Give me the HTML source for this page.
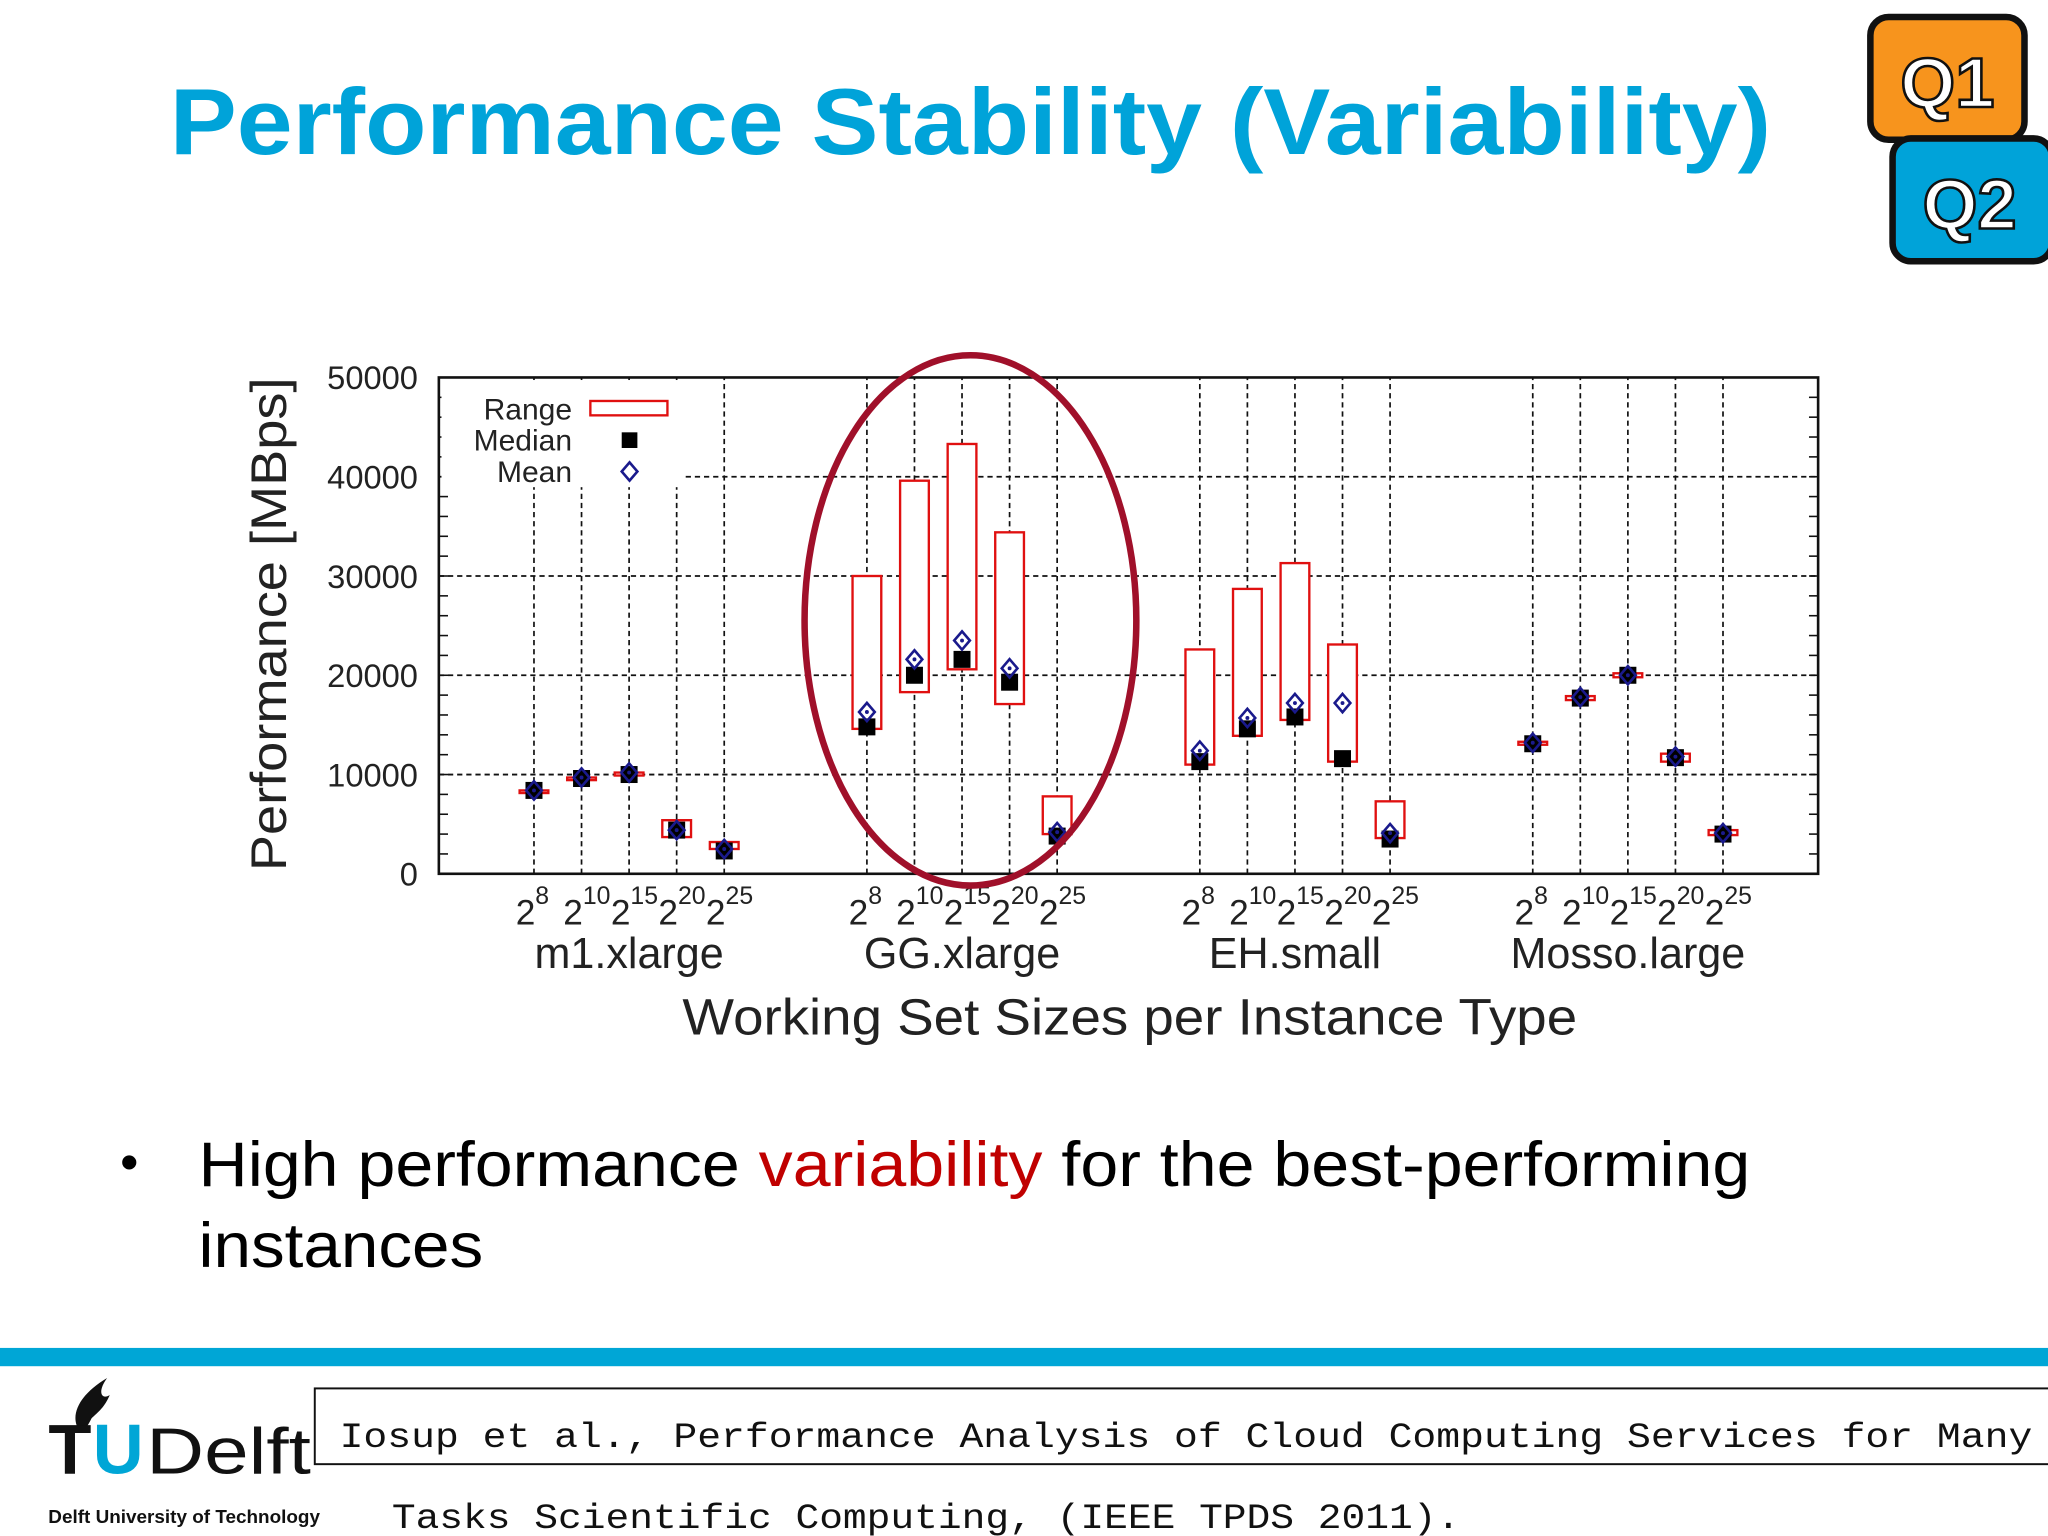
<!DOCTYPE html>
<html><head><meta charset="utf-8"><style>
html,body{margin:0;padding:0;background:#fff;}
svg{display:block;}
</style></head><body>
<svg id="slide" width="2048" height="1536" viewBox="0 0 1568 1176" xmlns="http://www.w3.org/2000/svg" font-family="Liberation Sans, sans-serif">
<rect width="1568" height="1176" fill="#fff"/>
<text x="130" y="118" font-size="72" font-weight="bold" fill="#00a3d9" textLength="1226" lengthAdjust="spacingAndGlyphs">Performance Stability (Variability)</text>
<g>
<rect x="1432" y="13" width="118" height="94" rx="14" fill="#f7941d" stroke="#111" stroke-width="5"/>
<text x="1491" y="82" font-size="54" font-weight="bold" fill="#fff" stroke="#111" stroke-width="2" text-anchor="middle">Q1</text>
</g>
<g>
<rect x="1449" y="106" width="122" height="94" rx="14" fill="#00a3d9" stroke="#111" stroke-width="5"/>
<text x="1508" y="175" font-size="54" font-weight="bold" fill="#fff" stroke="#111" stroke-width="2" text-anchor="middle">Q2</text>
</g>
<g id="chart"></g>
<text x="92" y="903" font-size="40" fill="#000">•</text>
<text x="152" y="908" font-size="48" fill="#000" textLength="1188" lengthAdjust="spacingAndGlyphs">High performance <tspan fill="#c00000">variability</tspan> for the best-performing</text>
<text x="152" y="970" font-size="48" fill="#000" textLength="218" lengthAdjust="spacingAndGlyphs">instances</text>
<rect x="0" y="1032" width="1568" height="14" fill="#00a6d6"/>
<g>
<path d="M62 1097 C52 1085 60 1068 82 1055 C74 1066 78 1072 84 1068 C80 1078 74 1082 70 1086 C68 1090 66 1094 62 1097 Z" fill="#111"/>
<text x="37" y="1128" font-size="54" font-weight="bold" fill="#111">T</text>
<text x="71" y="1128" font-size="54" font-weight="bold" fill="#00a6d6">U</text>
<text x="112" y="1128" font-size="50" fill="#111" textLength="126" lengthAdjust="spacingAndGlyphs">Delft</text>
<text x="37" y="1166" font-size="14" font-weight="bold" fill="#111" textLength="208" lengthAdjust="spacingAndGlyphs">Delft University of Technology</text>
</g>
<rect x="241" y="1063" width="1340" height="58" fill="#fff" stroke="#111" stroke-width="1.5"/>
<text x="260" y="1108" font-family="Liberation Mono, monospace" font-size="27" fill="#111" textLength="1296" lengthAdjust="spacingAndGlyphs">Iosup et al., Performance Analysis of Cloud Computing Services for Many</text>
<text x="300" y="1170" font-family="Liberation Mono, monospace" font-size="27" fill="#111" textLength="818" lengthAdjust="spacingAndGlyphs">Tasks Scientific Computing, (IEEE TPDS 2011).</text>
</svg>
<script>
const groups = ["m1.xlarge","GG.xlarge","EH.small","Mosso.large"];
const sizes = ["8","10","15","20","25"];
const rangeLow = [8.2,9.5,9.9,3.7,2.5, 14.6,18.3,20.6,17.1,4.0, 11.0,13.9,15.5,11.3,3.6, 13.0,17.5,19.8,11.3,3.9];
const rangeHigh = [8.4,9.7,10.2,5.4,3.2, 30.0,39.6,43.3,34.4,7.8, 22.6,28.7,31.3,23.1,7.3, 13.3,17.9,20.2,12.1,4.4];
const medians = [8.4,9.6,10.0,4.4,2.3, 14.8,20.0,21.6,19.3,3.8, 11.3,14.6,15.8,11.6,3.5, 13.1,17.7,20.0,11.7,4.0];
const means = [8.4,9.7,10.2,4.4,2.5, 16.3,21.6,23.5,20.7,4.2, 12.4,15.7,17.2,17.2,4.1, 13.2,17.8,20.0,11.8,4.1];
const yTicks = [0,10000,20000,30000,40000,50000];

const NS="http://www.w3.org/2000/svg";
const chart=document.getElementById('chart');
const L=336,R=1392,T=289,B=669;
const xs=k=>L+(k+2)*(R-L)/29;
const ys=v=>B-v/50000*(B-T);
function mk(tag,attrs,parent){const e=document.createElementNS(NS,tag);for(const k in attrs)e.setAttribute(k,attrs[k]);(parent||chart).appendChild(e);return e;}
function txt(s,attrs){const e=mk('text',attrs);e.textContent=s;return e;}

yTicks.forEach((t,i)=>{
  if(t>0&&t<50000){
    const g=mk('line',{x1:L,x2:R,y1:ys(t),y2:ys(t),stroke:'#111','stroke-width':1.4,'stroke-dasharray':'4,3'});
    
    
  }
  const lb=txt(String(t),{x:320,y:ys(t)+9,'font-size':25,'text-anchor':'end',fill:'#222'});
  
  
});
for(let v=0;v<=50000;v+=2000){
  mk('line',{x1:L,x2:L+7,y1:ys(v),y2:ys(v),stroke:'#111','stroke-width':1.2});
  mk('line',{x1:R,x2:R-7,y1:ys(v),y2:ys(v),stroke:'#111','stroke-width':1.2});
}
groups.forEach((g,gi)=>{
  sizes.forEach((s,si)=>{
    const k=gi*7+si, x=xs(k);
    const vl=mk('line',{x1:x,x2:x,y1:B,y2:T,stroke:'#111','stroke-width':1.3,'stroke-dasharray':'4,3'});
    
    
    const t=mk('text',{x:x-14,y:708,'font-size':27,fill:'#222'});
    
    
    t.textContent='2';
    const sp=mk('tspan',{dy:-16,'font-size':19},t);sp.textContent=s;
  });
  const gl=txt(g,{x:xs(gi*7+2),y:741,'font-size':33,'text-anchor':'middle',fill:'#222'});
  
  
});
const lbg=mk('rect',{x:L+2,y:T+2,width:186,height:82,fill:'#fff'});


const fr=mk('rect',{x:L,y:T,width:R-L,height:B-T,fill:'none',stroke:'#111','stroke-width':2});


rangeLow.forEach((lo,i)=>{
  const gi=Math.floor(i/5), si=i%5, x=xs(gi*7+si);
  const y1=ys(rangeHigh[i]*1000), y2=ys(lo*1000);
  const r=mk('rect',{x:x-11,y:y1,width:22,height:Math.max(y2-y1,2),fill:'#fff',stroke:'#e01010','stroke-width':1.8});
  
  
  const ym=ys(medians[i]*1000);
  const m=mk('rect',{x:x-6.5,y:ym-6.5,width:13,height:13,fill:'#000'});
  
  
  const yn=ys(means[i]*1000);
  const d=mk('path',{d:`M${x} ${yn-7} L${x+6} ${yn} L${x} ${yn+7} L${x-6} ${yn} Z`,fill:'none',stroke:'#1a1a8c','stroke-width':2});
  
  
  mk('circle',{cx:x,cy:yn,r:1.5,fill:'#1a1a8c'});
});
[['Range',313],['Median',337],['Mean',361]].forEach(([s,y])=>{
  const t=txt(s,{x:438,y:y+8,'font-size':23,'text-anchor':'end',fill:'#222'});
  
  
});
mk('rect',{x:452,y:307,width:59,height:11,fill:'#fff',stroke:'#e01010','stroke-width':1.8});
mk('rect',{x:476,y:331,width:12,height:12,fill:'#000'});
mk('path',{d:'M482 354 L488 361 L482 368 L476 361 Z',fill:'none',stroke:'#1a1a8c','stroke-width':2});
const yt=txt('Performance [MBps]',{x:0,y:0,'font-size':38,'text-anchor':'middle',fill:'#222',transform:'translate(219,478) rotate(-90)',textLength:378,lengthAdjust:'spacingAndGlyphs'});


const xt=txt('Working Set Sizes per Instance Type',{x:865,y:792,'font-size':39,'text-anchor':'middle',fill:'#222',textLength:685,lengthAdjust:'spacingAndGlyphs'});


const el=mk('ellipse',{cx:743,cy:475,rx:127,ry:203,fill:'none',stroke:'#a0102a','stroke-width':5});


</script>
</body></html>
